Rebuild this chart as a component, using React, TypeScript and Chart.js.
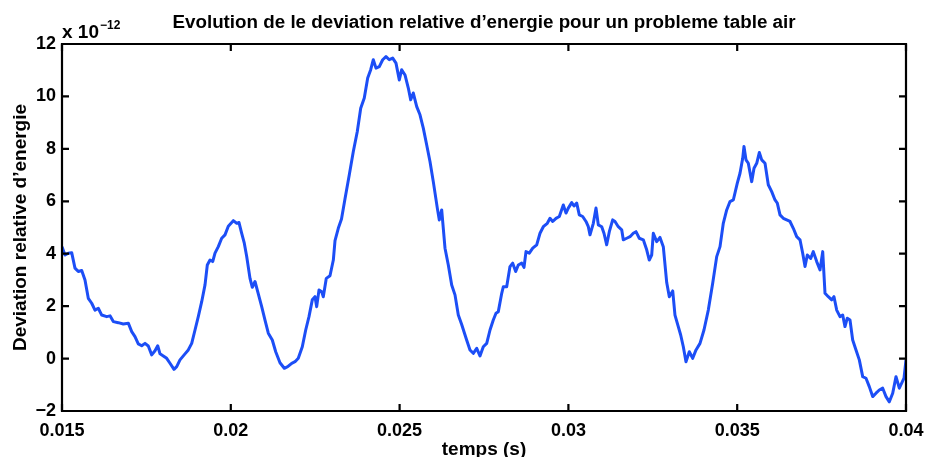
import React, { useEffect, useRef } from "react";
import { Chart, registerables } from "chart.js";

Chart.register(...registerables);

const chartTitle = "Evolution de le deviation relative d\u2019energie pour un probleme table air";
const xAxisLabel = "temps (s)";
const yAxisLabel = "Deviation relative d\u2019energie";
const yExponentBase = "x 10";
const yExponentPower = "\u221212";

const xTicks = [0.015, 0.02, 0.025, 0.03, 0.035, 0.04];
const yTicks = [-2, 0, 2, 4, 6, 8, 10, 12];

// time in seconds
const timeS = [
  0.015000, 0.015089, 0.015187, 0.015287, 0.015385, 0.015483, 0.015584, 0.015681, 0.015779, 0.015880,
  0.015977, 0.016075, 0.016176, 0.016324, 0.016422, 0.016520, 0.016668, 0.016816, 0.016964, 0.017065,
  0.017162, 0.017260, 0.017361, 0.017459, 0.017556, 0.017657, 0.017755, 0.017835, 0.017903, 0.018001,
  0.018101, 0.018199, 0.018318, 0.018398, 0.018495, 0.018643, 0.018741, 0.018842, 0.018940, 0.019037,
  0.019138, 0.019236, 0.019304, 0.019384, 0.019464, 0.019532, 0.019630, 0.019730, 0.019828, 0.019926,
  0.020074, 0.020175, 0.020243, 0.020323, 0.020400, 0.020471, 0.020569, 0.020637, 0.020717, 0.020797,
  0.020915, 0.021013, 0.021111, 0.021229, 0.021330, 0.021457, 0.021585, 0.021685, 0.021804, 0.021902,
  0.021999, 0.022118, 0.022219, 0.022316, 0.022414, 0.022494, 0.022544, 0.022613, 0.022693, 0.022740,
  0.022829, 0.022938, 0.023037, 0.023087, 0.023184, 0.023279, 0.023383, 0.023510, 0.023629, 0.023747,
  0.023848, 0.023954, 0.024055, 0.024144, 0.024221, 0.024301, 0.024399, 0.024499, 0.024597, 0.024695,
  0.024796, 0.024893, 0.024991, 0.025062, 0.025160, 0.025258, 0.025329, 0.025406, 0.025507, 0.025604,
  0.025702, 0.025803, 0.025900, 0.025998, 0.026117, 0.026176, 0.026247, 0.026345, 0.026443, 0.026543,
  0.026641, 0.026739, 0.026839, 0.026986, 0.027085, 0.027183, 0.027284, 0.027381, 0.027479, 0.027580,
  0.027678, 0.027775, 0.027855, 0.027924, 0.028025, 0.028072, 0.028172, 0.028270, 0.028350, 0.028439,
  0.028516, 0.028617, 0.028685, 0.028744, 0.028842, 0.028943, 0.029061, 0.029159, 0.029257, 0.029375,
  0.029455, 0.029535, 0.029633, 0.029731, 0.029849, 0.029929, 0.029997, 0.030098, 0.030166, 0.030246,
  0.030323, 0.030423, 0.030521, 0.030590, 0.030640, 0.030738, 0.030818, 0.030886, 0.030987, 0.031054,
  0.031134, 0.031212, 0.031312, 0.031380, 0.031478, 0.031579, 0.031626, 0.031727, 0.031825, 0.031922,
  0.032002, 0.032100, 0.032219, 0.032319, 0.032396, 0.032467, 0.032515, 0.032616, 0.032713, 0.032811,
  0.032912, 0.032989, 0.033090, 0.033157, 0.033255, 0.033326, 0.033404, 0.033483, 0.033581, 0.033682,
  0.033780, 0.033898, 0.034016, 0.034144, 0.034274, 0.034393, 0.034491, 0.034588, 0.034689, 0.034787,
  0.034885, 0.035003, 0.035083, 0.035163, 0.035201, 0.035261, 0.035329, 0.035429, 0.035498, 0.035578,
  0.035655, 0.035726, 0.035824, 0.035921, 0.036022, 0.036120, 0.036188, 0.036268, 0.036366, 0.036466,
  0.036564, 0.036662, 0.036762, 0.036860, 0.036940, 0.037009, 0.037077, 0.037177, 0.037254, 0.037355,
  0.037453, 0.037533, 0.037601, 0.037699, 0.037799, 0.037867, 0.037947, 0.038045, 0.038125, 0.038193,
  0.038261, 0.038341, 0.038421, 0.038519, 0.038617, 0.038717, 0.038815, 0.038913, 0.039013, 0.039111,
  0.039209, 0.039310, 0.039408, 0.039506, 0.039606, 0.039704, 0.039802, 0.039872, 0.039941, 0.040000,
];

// relative energy deviation, in units of 1e-12
const deviationE12 = [
  4.27, 3.95, 4.02, 4.04, 3.45, 3.32, 3.36, 3.00, 2.30, 2.11,
  1.85, 1.92, 1.66, 1.60, 1.63, 1.41, 1.37, 1.32, 1.35, 1.03,
  0.84, 0.56, 0.49, 0.58, 0.48, 0.14, 0.30, 0.49, 0.18, 0.10,
  0.01, -0.18, -0.41, -0.31, -0.05, 0.18, 0.33, 0.58, 1.09, 1.60,
  2.17, 2.81, 3.57, 3.76, 3.70, 4.02, 4.27, 4.59, 4.72, 5.05,
  5.26, 5.16, 5.19, 4.78, 4.40, 3.89, 3.06, 2.72, 2.94, 2.55,
  1.98, 1.47, 0.97, 0.71, 0.26, -0.16, -0.37, -0.31, -0.18, -0.12,
  0.01, 0.45, 1.09, 1.60, 2.24, 2.36, 1.98, 2.62, 2.55, 2.36,
  3.06, 3.16, 3.76, 4.50, 4.97, 5.32, 6.10, 7.01, 7.90, 8.66,
  9.55, 9.94, 10.70, 11.02, 11.40, 11.08, 11.14, 11.40, 11.52, 11.40,
  11.46, 11.27, 10.63, 11.02, 10.82, 10.32, 9.87, 10.13, 9.61, 9.30,
  8.79, 8.15, 7.52, 6.75, 5.74, 5.29, 5.67, 4.21, 3.57, 2.81,
  2.43, 1.66, 1.30, 0.71, 0.33, 0.20, 0.39, 0.10, 0.45, 0.58,
  1.09, 1.47, 1.73, 1.79, 2.49, 2.74, 2.74, 3.51, 3.64, 3.32,
  3.57, 3.64, 3.48, 4.08, 4.02, 4.21, 4.34, 4.78, 5.03, 5.16,
  5.35, 5.23, 5.35, 5.42, 5.86, 5.55, 5.74, 5.95, 5.82, 5.93,
  5.48, 5.42, 5.23, 5.03, 4.72, 5.16, 5.74, 5.10, 5.03, 4.78,
  4.34, 4.84, 5.29, 5.23, 5.03, 4.91, 4.53, 4.59, 4.65, 4.78,
  4.84, 4.59, 4.53, 4.15, 3.76, 3.95, 4.78, 4.46, 4.62, 4.27,
  2.90, 2.36, 2.58, 1.66, 1.22, 0.90, 0.45, -0.12, 0.26, 0.01,
  0.33, 0.58, 1.09, 1.85, 2.87, 3.89, 4.27, 5.16, 5.67, 5.99,
  6.05, 6.69, 7.07, 7.64, 8.09, 7.58, 7.45, 6.75, 7.26, 7.45,
  7.86, 7.58, 7.45, 6.63, 6.37, 6.05, 5.93, 5.48, 5.35, 5.29,
  5.23, 4.97, 4.65, 4.53, 4.02, 3.51, 3.95, 3.82, 4.08, 3.70,
  3.38, 4.08, 2.49, 2.36, 2.24, 2.36, 1.85, 1.60, 1.66, 1.22,
  1.54, 1.47, 0.71, 0.33, -0.05, -0.69, -0.75, -1.07, -1.45, -1.32,
  -1.20, -1.13, -1.45, -1.65, -1.32, -0.69, -1.13, -0.94, -0.75, -0.05,
];

const FONT_FAMILY = '"Liberation Sans", Arial, Helvetica, sans-serif';

const decorPlugin = {
  id: "matlabDecor",
  afterDatasetsDraw(chart: any) {
    const { ctx, chartArea, scales } = chart;
    const { left, right, top, bottom } = chartArea;
    const xs = scales.x;
    const ys = scales.y;
    const tickLen = 7;
    ctx.save();
    ctx.strokeStyle = "#000";
    ctx.lineWidth = 2.2;
    ctx.beginPath();
    ctx.rect(left, top, right - left, bottom - top);
    ctx.stroke();
    ctx.beginPath();
    xTicks.forEach((v) => {
      const px = xs.getPixelForValue(v);
      ctx.moveTo(px, bottom);
      ctx.lineTo(px, bottom - tickLen);
      ctx.moveTo(px, top);
      ctx.lineTo(px, top + tickLen);
    });
    yTicks.forEach((v) => {
      const py = ys.getPixelForValue(v);
      ctx.moveTo(left, py);
      ctx.lineTo(left + tickLen, py);
      ctx.moveTo(right, py);
      ctx.lineTo(right - tickLen, py);
    });
    ctx.stroke();

    ctx.fillStyle = "#000";
    // title
    ctx.font = `bold 18.8px ${FONT_FAMILY}`;
    ctx.textAlign = "center";
    ctx.textBaseline = "alphabetic";
    ctx.fillText(chartTitle, (left + right) / 2, 28);
    // x axis label
    ctx.font = `bold 19px ${FONT_FAMILY}`;
    ctx.fillText(xAxisLabel, (left + right) / 2, 455);
    // y axis label
    ctx.save();
    ctx.translate(21, (top + bottom) / 2);
    ctx.rotate(-Math.PI / 2);
    ctx.textBaseline = "middle";
    ctx.fillText(yAxisLabel, 0, 0);
    ctx.restore();
    // exponent
    ctx.textAlign = "left";
    ctx.font = `bold 19px ${FONT_FAMILY}`;
    ctx.fillText(yExponentBase, left, 38);
    const w = ctx.measureText(yExponentBase).width;
    ctx.font = `bold 12px ${FONT_FAMILY}`;
    ctx.fillText(yExponentPower, left + w + 1, 29);
    ctx.restore();
  },
};

export default function App() {
  const canvasRef = useRef<HTMLCanvasElement | null>(null);

  useEffect(() => {
    document.body.style.margin = "0";
    const canvas = canvasRef.current;
    if (!canvas) return;
    const points = timeS.map((t, i) => ({ x: t, y: deviationE12[i] }));
    const chart = new Chart(canvas, {
      type: "line",
      data: {
        datasets: [
          {
            data: points,
            borderColor: "#1c4ef6",
            borderWidth: 3,
            borderJoinStyle: "round",
            pointRadius: 0,
            tension: 0,
            fill: false,
          },
        ],
      },
      options: {
        animation: false,
        responsive: false,
        devicePixelRatio: 1,
        parsing: false as any,
        layout: { padding: { left: 0, right: 19, top: 44, bottom: 0 } },
        plugins: {
          legend: { display: false },
          title: { display: false },
          tooltip: { enabled: false },
        },
        scales: {
          x: {
            type: "linear",
            min: 0.015,
            max: 0.04,
            grid: { display: false, drawTicks: false },
            border: { display: false },
            afterBuildTicks: (scale: any) => {
              scale.ticks = xTicks.map((v) => ({ value: v }));
            },
            afterFit: (scale: any) => {
              scale.height = 46;
              scale.paddingLeft = 0;
              scale.paddingRight = 0;
            },
            ticks: {
              color: "#000",
              maxRotation: 0,
              autoSkip: false,
              padding: 9,
              font: { family: FONT_FAMILY, size: 18, weight: "bold" },
              callback: (v: any) => String(v),
            },
          },
          y: {
            type: "linear",
            min: -2,
            max: 12,
            grid: { display: false, drawTicks: false },
            border: { display: false },
            afterBuildTicks: (scale: any) => {
              scale.ticks = yTicks.map((v) => ({ value: v }));
            },
            afterFit: (scale: any) => {
              scale.width = 62;
              scale.paddingTop = 0;
              scale.paddingBottom = 0;
            },
            ticks: {
              color: "#000",
              autoSkip: false,
              padding: 6,
              font: { family: FONT_FAMILY, size: 18, weight: "bold" },
              callback: (v: any) => String(v).replace("-", "\u2212"),
            },
          },
        },
      },
      plugins: [decorPlugin],
    });
    return () => chart.destroy();
  }, []);

  return <canvas ref={canvasRef} width={925} height={457} style={{ display: "block" }} />;
}
